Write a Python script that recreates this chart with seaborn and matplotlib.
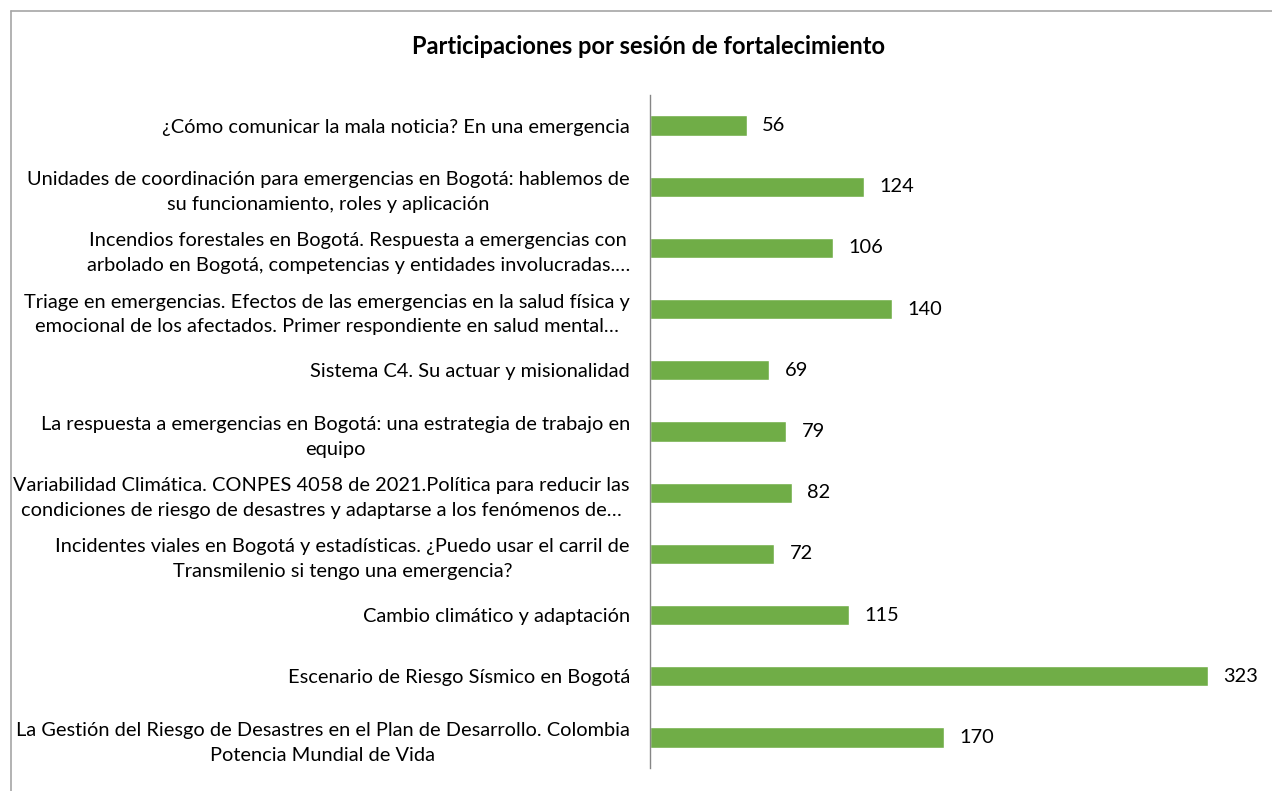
import matplotlib
matplotlib.use("Agg")
import matplotlib.pyplot as plt
import seaborn as sns
import pandas as pd
from matplotlib.lines import Line2D

categories = [
    "¿Cómo comunicar la mala noticia? En una emergencia",
    "Unidades de coordinación para emergencias en Bogotá: hablemos de\nsu funcionamiento, roles y aplicación",
    "Incendios forestales en Bogotá. Respuesta a emergencias con\narbolado en Bogotá, competencias y entidades involucradas.…",
    "Triage en emergencias. Efectos de las emergencias en la salud física y\nemocional de los afectados. Primer respondiente en salud mental…",
    "Sistema C4. Su actuar y misionalidad",
    "La respuesta a emergencias en Bogotá: una estrategia de trabajo en\nequipo",
    "Variabilidad Climática. CONPES 4058 de 2021.Política para reducir las\ncondiciones de riesgo de desastres y adaptarse a los fenómenos de…",
    "Incidentes viales en Bogotá y estadísticas. ¿Puedo usar el carril de\nTransmilenio si tengo una emergencia?",
    "Cambio climático y adaptación",
    "Escenario de Riesgo Sísmico en Bogotá",
    "La Gestión del Riesgo de Desastres en el Plan de Desarrollo. Colombia\nPotencia Mundial de Vida",
]
values = [56, 124, 106, 140, 69, 79, 82, 72, 115, 323, 170]
title = "Participaciones por sesión de fortalecimiento"

sns.set_theme(style="white")
plt.rcParams['font.family'] = ['Lato', 'DejaVu Sans']

W, H = 1272, 791
fig = plt.figure(figsize=(W / 100, H / 100), dpi=100)
ax = fig.add_axes([650 / W, 1 - 768 / H, (1262 - 650) / W, (768 - 95) / H])

df = pd.DataFrame({"cat": categories, "val": values})
sns.barplot(data=df, x="val", y="cat", orient="h", color="#70AD47",
            saturation=1, width=0.33, ax=ax)

ax.set_xlim(0, 612 / (558 / 323))
ax.set_ylim(10.5, -0.5)
ax.set_xlabel("")
ax.set_ylabel("")
ax.set_xticks([])
for s in ["top", "right", "bottom"]:
    ax.spines[s].set_visible(False)
ax.spines["left"].set_color("#868686")
ax.spines["left"].set_linewidth(1.0)
ax.tick_params(axis="y", length=0, pad=14.5, labelsize=14.4, labelcolor="#000000")
for lbl in ax.get_yticklabels():
    lbl.set_multialignment("center")
    lbl.set_linespacing(1.55)

ax.bar_label(ax.containers[0], padding=11, fontsize=14.4, color="#000000")

fig.text(648 / W, 1 - 47 / H, title, ha="center", va="center",
         fontsize=17, fontweight="bold", color="#000000")

# outer border
fig.add_artist(Line2D([11 / W, 11 / W], [0, 1 - 11 / H], color="#A6A6A6", lw=1.2,
                      transform=fig.transFigure))
fig.add_artist(Line2D([11 / W, 1], [1 - 11 / H, 1 - 11 / H], color="#A6A6A6", lw=1.2,
                      transform=fig.transFigure))

fig.savefig("out.png", dpi=100, facecolor="white")
